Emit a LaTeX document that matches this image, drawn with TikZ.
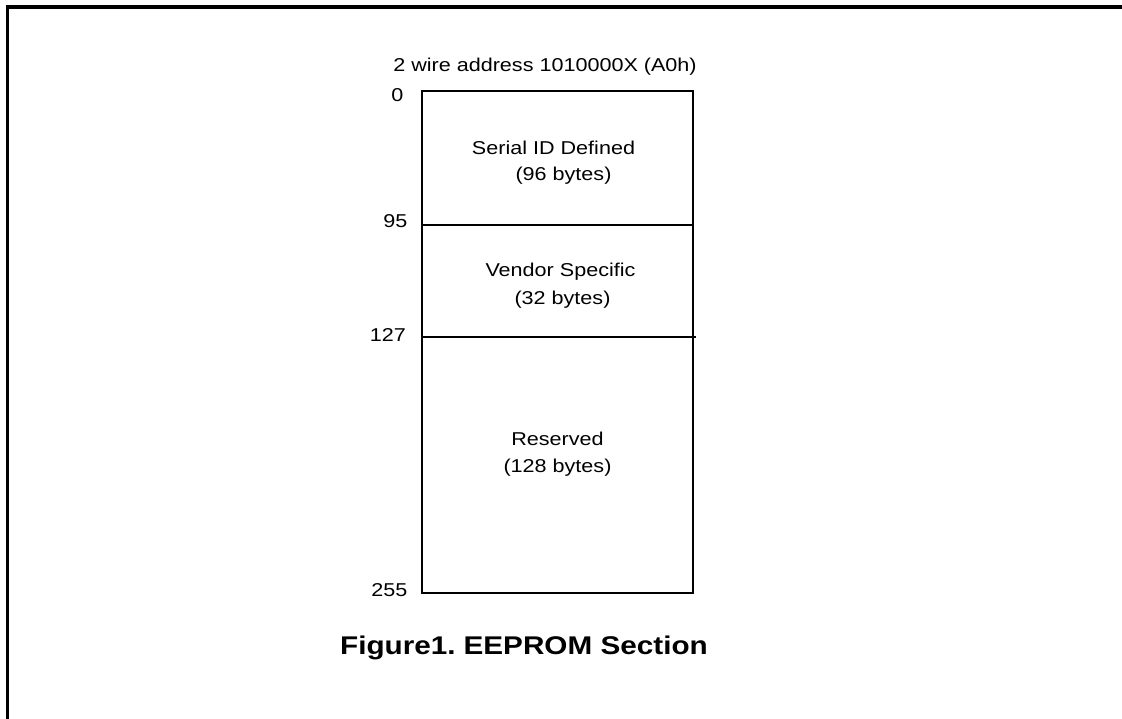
\documentclass[tikz,border=0pt]{standalone}
\usepackage{fontspec}
\setmainfont{Liberation Sans}[FakeStretch=1.16]
\newfontfamily\arialx{Liberation Sans}[FakeStretch=1.16]
\begin{document}
\begin{tikzpicture}[x=1pt,y=-1pt,
  lbl/.style={inner sep=0pt,anchor=base,font=\fontsize{18.6}{20}\selectfont\arialx},
  addr/.style={inner sep=0pt,anchor=base east,font=\fontsize{18.6}{20}\selectfont\arialx},
  ttl/.style={inner sep=0pt,anchor=base,font=\fontsize{25.6}{28}\selectfont\arialx\bfseries},
  frame/.style={line width=3.2pt},
  boxline/.style={line width=2pt}]
\useasboundingbox (0,0) rectangle (1122,719);
% outer frame
\draw[frame] (7.8,719) -- (7.8,7) -- (1122,7);
% memory map box
\coordinate (tl) at (421.5,91);
\coordinate (br) at (692.5,592.5);
\draw[boxline] (tl) rectangle (br);
\coordinate (a95) at (421.5,225);
\coordinate (b95) at (692.5,225);
\coordinate (a127) at (421.5,337);
\coordinate (b127) at (696,337);
\draw[boxline] (a95) -- (b95);
\draw[boxline] (a127) -- (b127);
% texts
\node[lbl] (hdr) at (545,72) {2 wire address 1010000X (A0h)};
\node[addr] (n0) at (403.5,101.5) {0};
\node[addr] (n95) at (407.5,228) {95};
\node[addr] (n127) at (406,341.5) {127};
\node[addr] (n255) at (407.5,596) {255};
\node[lbl] (s1) at (553.5,155) {Serial ID Defined};
\node[lbl] (s1b) at (563.5,180.5) {(96 bytes)};
\node[lbl] (s2) at (560.5,276.5) {Vendor Specific};
\node[lbl] (s2b) at (562.5,305) {(32 bytes)};
\node[lbl] (s3) at (557.5,445) {Reserved};
\node[lbl] (s3b) at (557.5,472.5) {(128 bytes)};
\node[ttl] (title) at (524,654) {Figure1.\hspace{-0.12em} EEPROM Section};
\end{tikzpicture}
\end{document}
